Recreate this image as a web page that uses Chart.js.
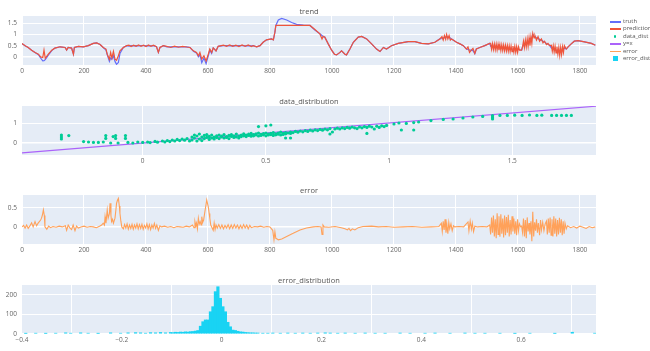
<!DOCTYPE html>
<html>
<head>
<meta charset="utf-8">
<script src="https://cdn.jsdelivr.net/npm/chart.js@4.4.0/dist/chart.umd.min.js"></script>
<style>
  body { margin: 0; background: #fff; width: 650px; height: 351px; overflow: hidden; position: relative; font-family: "Open Sans", sans-serif; }
  canvas { position: absolute; left: 0; }
  #legend { position: absolute; left: 609px; top: 18px; font-size: 6px; color: #555; }
  .item { position: relative; height: 7.4px; line-height: 7.4px; padding-left: 14px; white-space: nowrap; }
  .item i { position: absolute; left: 1px; top: 3px; width: 11px; height: 1.5px; }
  .item i.dot { left: 5px; top: 2.6px; width: 2.4px; height: 2.4px; border-radius: 50%; }
  .item i.box { left: 4px; top: 1.5px; width: 5px; height: 5px; }
</style>
</head>
<body>
<canvas id="trendChart" width="650" height="76" style="top:1px"></canvas>
<canvas id="distChart" width="650" height="76" style="top:91px"></canvas>
<canvas id="errorChart" width="650" height="76" style="top:180px"></canvas>
<canvas id="histChart" width="650" height="76" style="top:270px"></canvas>
<div id="legend"></div>
<script>
// Serie temporal: truth / prediction
const trendX = [
  0, 10, 20, 31, 42, 53, 60, 67, 71, 75, 85, 96, 106, 123, 139, 144, 149, 160, 166, 169,
  182, 198, 214, 230, 241, 252, 262, 271, 275, 282, 286, 290, 295, 300, 305, 311, 316, 327, 338,
  345, 352, 360, 368, 376, 384, 392, 400, 408, 416, 424, 434, 440, 445, 456, 467, 480, 492, 505, 518,
  531, 542, 553, 563, 569, 574, 580, 587, 594, 601, 606, 612, 617, 626, 633,
  650, 660, 670, 680, 690, 700, 710, 720, 730, 740, 746, 757, 768, 778, 789, 805, 811, 816, 819, 827,
  838, 854, 870, 886, 908, 929, 945, 961, 968, 972, 977,
  988, 999, 1008, 1015, 1026, 1031, 1042, 1047, 1058, 1069, 1085, 1096, 1112, 1128, 1144, 1155, 1166, 1176, 1192, 1214,
  1246, 1268, 1289, 1311, 1332, 1348,
  1355, 1359, 1363, 1367, 1370, 1374, 1378, 1382, 1386, 1402, 1413, 1424, 1434, 1439, 1444, 1450, 1455, 1461, 1466, 1477,
  1493, 1509,
  1512, 1515, 1518, 1521, 1524, 1527, 1530, 1533, 1536, 1539, 1542, 1545, 1548, 1551, 1554, 1557, 1560, 1563, 1566, 1569,
  1572, 1575, 1578, 1581, 1584, 1587, 1590, 1593, 1596, 1599, 1602, 1605,
  1612, 1615, 1618, 1621, 1624, 1627, 1630, 1633, 1636, 1639, 1642, 1645, 1648,
  1652, 1655, 1660, 1665, 1670, 1676, 1681, 1686, 1692, 1697, 1702,
  1708, 1711, 1714, 1717, 1720, 1723, 1726, 1729, 1732, 1735, 1738, 1741, 1744, 1747, 1750,
  1756, 1762, 1772, 1782, 1794, 1815, 1837, 1850
];
const truthY = [
  0.58, 0.5, 0.42, 0.3, 0.2, 0.1, -0.05, -0.18, -0.17, -0.12, 0.08, 0.28, 0.39, 0.45, 0.42, 0.3, 0.42, 0.39, 0.12, 0.42,
  0.47, 0.45, 0.5, 0.6, 0.62, 0.55, 0.42, 0.3, 0.1, -0.2, -0.05, -0.1, 0.05, -0.2, -0.33, -0.25, 0.15, 0.42, 0.5,
  0.48, 0.5, 0.49, 0.5, 0.49, 0.5, 0.5, 0.49, 0.5, 0.49, 0.5, 0.45, 0.2, 0.42, 0.5, 0.45, 0.45, 0.46, 0.45, 0.44,
  0.45, 0.42, 0.25, 0.18, 0, 0.1, -0.26, -0.05, -0.3, 0.05, 0.3, 0.15, 0.4, 0.27, 0.47,
  0.5, 0.5, 0.49, 0.5, 0.49, 0.5, 0.5, 0.49, 0.5, 0.49, 0.5, 0.45, 0.5, 0.65, 0.76, 0.8, 0.76, 1.1, 1.4, 1.64,
  1.71, 1.64, 1.53, 1.45, 1.41, 1.4, 1.2, 1.03, 0.95, 0.9, 0.88,
  0.58, 0.3, 0.12, 0.09, 0.2, 0.27, 0.12, 0.09, 0.35, 0.65, 0.88, 0.91, 0.8, 0.58, 0.35, 0.24, 0.42, 0.35, 0.5, 0.6,
  0.68, 0.68, 0.6, 0.58, 0.65, 0.8,
  0.82, 0.84, 0.86, 0.88, 0.9, 0.88, 0.86, 0.84, 0.8, 0.65, 0.58, 0.5, 0.35, 0.33, 0.3, 0.3, 0.28, 0.15, 0.35, 0.42,
  0.5, 0.6,
  0.48, 0.47, 0.47, 0.46, 0.46, 0.45, 0.45, 0.44, 0.44, 0.43, 0.42, 0.41, 0.41, 0.4, 0.4, 0.39, 0.38, 0.38, 0.37, 0.37,
  0.36, 0.36, 0.35, 0.35, 0.35, 0.34, 0.34, 0.34, 0.33, 0.33, 0.33, 0.32,
  0.3, 0.45, 0.55, 0.57, 0.6, 0.62, 0.64, 0.66, 0.7, 0.72, 0.78, 0.85, 1.0,
  0.92, 0.9, 0.85, 0.82, 0.78, 0.74, 0.7, 0.66, 0.6, 0.56, 0.52,
  0.4, 0.38, 0.36, 0.34, 0.32, 0.3, 0.28, 0.26, 0.25, 0.24, 0.25, 0.27, 0.3, 0.34, 0.4,
  0.35, 0.45, 0.58, 0.7, 0.72, 0.67, 0.6, 0.52
];
const predY = [
  0.6, 0.5, 0.42, 0.3, 0.2, 0.12, 0, -0.03, 0.3, -0.06, 0.12, 0.3, 0.39, 0.45, 0.42, 0.3, 0.42, 0.39, 0.12, 0.42,
  0.47, 0.45, 0.5, 0.6, 0.62, 0.55, 0.42, 0.35, 0.12, -0.1, 0.2, -0.05, 0.25, -0.1, -0.15, 0.05, 0.27, 0.42, 0.5,
  0.52, 0.46, 0.52, 0.47, 0.53, 0.47, 0.52, 0.46, 0.53, 0.47, 0.52, 0.45, 0.2, 0.42, 0.5, 0.47, 0.42, 0.48, 0.43, 0.47,
  0.44, 0.42, 0.27, 0.2, 0.05, 0.2, -0.1, 0.05, -0.18, 0.12, 0.35, 0.2, 0.4, 0.27, 0.47,
  0.52, 0.47, 0.53, 0.47, 0.52, 0.46, 0.53, 0.47, 0.53, 0.46, 0.5, 0.45, 0.5, 0.65, 0.76, 0.8, 0.76, 1.1, 1.4, 1.4,
  1.4, 1.4, 1.4, 1.4, 1.4, 1.4, 1.22, 1.03, 0.8, 0.92, 0.88,
  0.58, 0.3, 0.12, 0.09, 0.2, 0.27, 0.12, 0.09, 0.35, 0.65, 0.88, 0.91, 0.8, 0.58, 0.35, 0.24, 0.42, 0.35, 0.5, 0.6,
  0.68, 0.68, 0.6, 0.58, 0.65, 0.8,
  0.9, 0.75, 0.95, 0.78, 1.0, 0.8, 0.95, 0.75, 0.8, 0.65, 0.58, 0.5, 0.35, 0.45, 0.2, 0.3, 0.38, 0.15, 0.35, 0.42,
  0.5, 0.6,
  0.6, 0.34, 0.59, 0.33, 0.58, 0.32, 0.57, 0.31, 0.56, 0.3, 0.55, 0.29, 0.54, 0.28, 0.53, 0.27, 0.52, 0.26, 0.51, 0.25,
  0.5, 0.24, 0.49, 0.23, 0.48, 0.22, 0.47, 0.21, 0.46, 0.2, 0.45, 0.3,
  0.3, 0.45, 0.7, 0.42, 0.75, 0.45, 0.8, 0.47, 0.85, 0.5, 0.9, 0.6, 1.05,
  0.85, 0.95, 0.75, 0.9, 0.7, 0.8, 0.62, 0.7, 0.55, 0.6, 0.5,
  0.52, 0.25, 0.5, 0.22, 0.48, 0.18, 0.45, 0.12, 0.42, 0.06, 0.42, 0.1, 0.45, 0.2, 0.5,
  0.35, 0.45, 0.58, 0.7, 0.72, 0.67, 0.6, 0.52
];

// Dispersión truth vs prediction
const distX = [
  -0.33, -0.33, -0.33, -0.3, -0.24, -0.22, -0.2, -0.18, -0.16, -0.15,
  -0.15, -0.13, -0.12, -0.11, -0.11, -0.1, -0.07, -0.07, -0.06, -0.04,
  -0.02, 0, 0.02, 0.03, 0.05, 0.06, 0.08, 0.09, 0.1, 0.11,
  0.12, 0.13, 0.14, 0.15, 0.16, 0.17, 0.18, 0.19, 0.2, 0.2,
  0.21, 0.21, 0.22, 0.22, 0.23, 0.23, 0.24, 0.24, 0.25, 0.25,
  0.26, 0.26, 0.27, 0.27, 0.28, 0.28, 0.29, 0.29, 0.3, 0.3,
  0.31, 0.31, 0.32, 0.32, 0.33, 0.33, 0.34, 0.34, 0.35, 0.35,
  0.36, 0.36, 0.37, 0.37, 0.38, 0.38, 0.39, 0.39, 0.4, 0.4,
  0.41, 0.41, 0.42, 0.42, 0.43, 0.43, 0.44, 0.44, 0.45, 0.45,
  0.46, 0.46, 0.47, 0.47, 0.48, 0.48, 0.49, 0.49, 0.5, 0.5,
  0.51, 0.51, 0.52, 0.52, 0.53, 0.53, 0.54, 0.54, 0.55, 0.55,
  0.56, 0.56, 0.57, 0.57, 0.58, 0.58, 0.59, 0.6, 0.6, 0.5,
  0.52, 0.47, 0.58, 0.6, 0.61, 0.62, 0.63, 0.64, 0.65, 0.66,
  0.67, 0.68, 0.69, 0.7, 0.71, 0.72, 0.73, 0.74, 0.75, 0.76,
  0.77, 0.78, 0.79, 0.8, 0.81, 0.82, 0.83, 0.84, 0.85, 0.86,
  0.87, 0.88, 0.89, 0.9, 0.91, 0.91, 0.92, 0.93, 0.94, 0.95,
  0.96, 0.97, 0.98, 0.99, 0.76, 1.02, 1.04, 1.05, 1.07, 1.1,
  1.1, 1.12, 1.17, 1.22, 1.26, 1.3, 1.34, 1.38, 1.42, 1.42,
  1.42, 1.42, 1.45, 1.48, 1.51, 1.54, 1.57, 1.6, 1.62, 1.66,
  1.68, 1.7, 1.72, 1.74
];
const distY = [
  0.4, 0.3, 0.2, 0.37, 0.07, 0.05, 0.03, 0.03, 0.05, 0.37,
  0.23, 0, 0.32, 0.37, 0.23, 0, 0.37, 0.23, 0.03, 0,
  0.05, 0.03, 0.05, 0.02, 0.08, 0.04, 0.1, 0.05, 0.12, 0.07,
  0.15, 0.1, 0.18, 0.12, 0.2, 0.14, 0.22, 0.1, 0.3, 0.15,
  0.4, 0.25, 0.1, 0.35, 0.2, 0.45, 0.3, 0.12, 0.38, 0.22,
  0.28, 0.42, 0.18, 0.33, 0.25, 0.4, 0.3, 0.2, 0.36, 0.27,
  0.22, 0.4, 0.3, 0.35, 0.25, 0.42, 0.32, 0.28, 0.38, 0.22,
  0.33, 0.42, 0.28, 0.36, 0.3, 0.45, 0.35, 0.25, 0.4, 0.32,
  0.36, 0.46, 0.4, 0.32, 0.44, 0.38, 0.34, 0.48, 0.42, 0.36,
  0.46, 0.4, 0.35, 0.5, 0.43, 0.38, 0.47, 0.41, 0.36, 0.5,
  0.44, 0.4, 0.48, 0.42, 0.38, 0.52, 0.46, 0.41, 0.5, 0.44,
  0.4, 0.54, 0.48, 0.43, 0.52, 0.46, 0.5, 0.55, 0.48, 0.86,
  0.9, 0.82, 0.25, 0.25, 0.52, 0.58, 0.54, 0.6, 0.56, 0.62,
  0.58, 0.64, 0.6, 0.66, 0.62, 0.68, 0.64, 0.7, 0.66, 0.72,
  0.55, 0.7, 0.74, 0.7, 0.76, 0.72, 0.78, 0.74, 0.8, 0.76,
  0.72, 0.8, 0.76, 0.82, 0.48, 0.78, 0.84, 0.8, 0.7, 0.84,
  0.78, 0.86, 0.82, 0.88, 0.45, 0.95, 1.0, 0.65, 0.98, 1.02,
  0.65, 1.05, 1.12, 1.18, 1.2, 1.25, 1.3, 1.33, 1.37, 1.3,
  1.25, 1.2, 1.38, 1.38, 1.39, 1.38, 1.4, 1.38, 1.39, 1.38,
  1.38, 1.38, 1.38, 1.38
];
const diagX = [-0.49, 1.84];

// Error en el tiempo
const errX = [
  0, 5, 10, 15, 20, 25, 31, 36, 42, 47,
  52, 56, 60, 63, 66, 69, 72, 74, 80, 86,
  92, 100, 110, 120, 130, 140, 144, 149, 155, 160,
  165, 171, 176, 182, 190, 200, 210, 220, 230, 240,
  250, 257, 262, 266, 268, 271, 275, 278, 282, 284,
  287, 289, 292, 295, 300, 303, 305, 308, 311, 314,
  316, 319, 322, 327, 331, 335, 339, 343, 347, 351,
  355, 359, 363, 367, 371, 375, 379, 383, 387, 391,
  395, 399, 403, 407, 411, 415, 419, 423, 427, 431,
  435, 440, 445, 450, 460, 470, 480, 490, 500, 510,
  520, 530, 540, 550, 555, 558, 561, 563, 566, 569,
  572, 575, 578, 580, 583, 586, 590, 593, 596, 599,
  601, 604, 606, 609, 612, 617, 620, 623, 626, 630,
  635, 640, 645, 650, 655, 660, 665, 670, 675, 680,
  685, 690, 695, 700, 705, 710, 715, 720, 725, 730,
  735, 740, 750, 760, 770, 780, 790, 800, 809, 813,
  816, 819, 823, 827, 838, 854, 875, 897, 918, 940,
  955, 965, 968, 971, 975, 990, 1010, 1030, 1042, 1050,
  1055, 1060, 1066, 1074, 1085, 1100, 1128, 1150, 1175, 1200,
  1230, 1260, 1290, 1320, 1345, 1353, 1356, 1359, 1362, 1365,
  1368, 1371, 1374, 1377, 1380, 1384, 1388, 1392, 1396, 1410,
  1425, 1439, 1442, 1446, 1450, 1453, 1457, 1461, 1470, 1485,
  1500, 1509, 1512, 1515, 1518, 1521, 1524, 1527, 1530, 1533,
  1536, 1539, 1542, 1545, 1548, 1551, 1554, 1557, 1560, 1563,
  1566, 1569, 1572, 1575, 1578, 1581, 1584, 1587, 1590, 1593,
  1596, 1599, 1602, 1605, 1609, 1612, 1615, 1618, 1621, 1624,
  1627, 1630, 1633, 1636, 1639, 1642, 1645, 1648, 1651, 1654,
  1657, 1660, 1663, 1666, 1670, 1673, 1676, 1680, 1684, 1688,
  1692, 1695, 1698, 1701, 1704, 1707, 1710, 1713, 1716, 1719,
  1722, 1725, 1728, 1731, 1734, 1737, 1740, 1743, 1746, 1749,
  1752, 1756, 1760, 1770, 1780, 1790, 1800, 1810, 1820, 1830,
  1840, 1850
];
const errY = [
  0, 0.04, -0.03, 0.05, -0.04, 0.02, 0.11, 0, 0.14, 0.03,
  0.1, 0.14, 0.18, 0.23, 0.32, 0.45, 0.3, 0, -0.06, 0.02,
  -0.02, 0.01, -0.01, 0.02, 0, 0.03, -0.09, 0.05, -0.03, -0.07,
  0.05, -0.1, 0.02, -0.03, 0, 0.02, -0.01, 0.01, 0, -0.02,
  0.02, 0.05, 0.1, 0.05, 0.27, 0.1, 0.45, 0.23, 0.35, 0.62,
  0.3, 0.14, 0.2, 0.1, 0.23, 0.45, 0.62, 0.7, 0.75, 0.55,
  0.36, 0.15, 0, -0.05, 0.06, -0.03, 0.08, -0.06, 0.05, -0.04,
  0.07, -0.06, 0.05, -0.03, 0.08, -0.05, 0.06, -0.04, 0.07, -0.06,
  0.04, -0.03, 0.08, -0.05, 0.06, -0.07, 0.05, -0.03, 0.09, -0.04,
  0.05, -0.09, 0.03, 0, 0.02, -0.01, 0.01, -0.02, 0.01, 0,
  -0.01, 0.02, 0, 0.05, -0.02, 0.14, 0.03, 0.1, -0.05, 0.23,
  0.08, 0.14, 0.05, 0.27, 0.12, 0.18, 0.4, 0.55, 0.71, 0.6,
  0.53, 0.35, 0.23, 0.05, 0, -0.09, 0.1, -0.07, 0.05, -0.03,
  0.06, -0.04, 0.05, -0.05, 0.04, -0.03, 0.06, -0.05, 0.05, -0.04,
  0.06, -0.03, 0.05, -0.05, 0.04, -0.04, 0.06, -0.03, 0.05, -0.05,
  0.04, -0.02, 0.01, 0, 0.02, -0.01, 0.01, 0, -0.09, -0.34,
  -0.13, -0.3, -0.32, -0.34, -0.32, -0.25, -0.17, -0.08, -0.03, 0,
  0.01, 0, -0.2, 0.05, 0, -0.01, 0.01, -0.02, -0.05, -0.08,
  -0.04, -0.1, -0.05, -0.08, -0.02, 0.01, 0.02, 0, 0.01, -0.01,
  0, 0.01, -0.01, 0, 0.01, 0.1, -0.12, 0.15, -0.08, 0.2,
  -0.15, 0.05, -0.18, 0.12, -0.05, 0.08, -0.1, 0.03, 0, 0.01,
  0, 0.13, -0.1, 0.15, -0.06, 0.1, -0.12, 0.02, 0, 0.01,
  0, 0.05, -0.2, 0.25, -0.15, 0.3, -0.25, 0.2, -0.3, 0.36,
  -0.2, 0.28, -0.26, 0.33, -0.18, 0.22, -0.28, 0.3, -0.22, 0.26,
  -0.15, 0.32, -0.25, 0.18, -0.2, 0.28, -0.12, 0.22, -0.18, 0.15,
  -0.22, 0.2, -0.1, 0.08, 0, 0.02, -0.15, 0.22, -0.25, 0.18,
  -0.3, 0.25, -0.12, 0.1, -0.2, 0.15, -0.38, 0.4, -0.25, 0.12,
  -0.1, 0.2, -0.15, 0.1, -0.22, 0.18, -0.08, 0.12, -0.1, 0.08,
  0.15, -0.2, 0.22, -0.15, 0.25, -0.22, 0.2, -0.25, 0.28, -0.18,
  0.22, -0.25, 0.18, -0.2, 0.24, -0.15, 0.2, -0.22, 0.15, -0.18,
  0.1, -0.05, 0.03, -0.02, 0.01, -0.03, 0.02, -0.01, -0.04, 0.01,
  -0.02, 0
];

// Histograma del error (centros de bin de 0.005)
const histX = [
  -0.3925, -0.3725, -0.3525, -0.3325, -0.3125, -0.3025, -0.2825, -0.2675, -0.2475, -0.2225,
  -0.2025, -0.1875, -0.1725, -0.1625, -0.1525, -0.1425, -0.1325, -0.1225, -0.1125, -0.1025,
  -0.0975, -0.0925, -0.0875, -0.0825, -0.0775, -0.0725, -0.0675, -0.0625, -0.0575, -0.0525,
  -0.0475, -0.0425, -0.0375, -0.0325, -0.0275, -0.0225, -0.0175, -0.0125, -0.0075, -0.0025,
  0.0025, 0.0075, 0.0125, 0.0175, 0.0225, 0.0275, 0.0325, 0.0375, 0.0425, 0.0475,
  0.0525, 0.0575, 0.0625, 0.0675, 0.0725, 0.0825, 0.0925, 0.1025, 0.1175, 0.1325,
  0.1475, 0.1625, 0.1775, 0.1925, 0.2075, 0.2175, 0.2325, 0.2475, 0.2675, 0.2875,
  0.3075, 0.3275, 0.3575, 0.3775, 0.4075, 0.4275, 0.4575, 0.4875, 0.5075, 0.5275,
  0.5575, 0.5875, 0.6175, 0.6675, 0.7025, 0.7475
];
const histY = [
  3, 4, 3, 4, 6, 4, 6, 4, 3, 6,
  4, 6, 7, 6, 4, 7, 6, 8, 6, 8,
  7, 9, 8, 10, 9, 11, 10, 12, 13, 15,
  18, 40, 63, 72, 72, 114, 140, 217, 242, 183,
  140, 114, 60, 37, 20, 18, 14, 11, 10, 8,
  7, 6, 6, 5, 5, 4, 4, 5, 4, 5,
  4, 5, 4, 5, 6, 5, 4, 5, 4, 5,
  4, 4, 5, 4, 4, 5, 4, 5, 4, 4,
  4, 3, 4, 3, 9, 4
];

const legendNames = ['truth', 'prediction', 'data_dist', 'y=x', 'error', 'error_dist'];
const legendColors = ['#636efa', '#ef553b', '#00cc96', '#ab63fa', '#ffa15a', '#19d3f3'];

// Fondo del área de trazado estilo plotly
const plotBg = {
  id: 'plotBg',
  beforeDraw(chart) {
    const { ctx, chartArea: a } = chart;
    ctx.save();
    ctx.fillStyle = '#e5ecf6';
    ctx.fillRect(a.left, a.top, a.right - a.left, a.bottom - a.top);
    ctx.restore();
  }
};

function axis(min, max, ticks, isY, extra) {
  return Object.assign({
    type: 'linear',
    min: min,
    max: max,
    afterBuildTicks: s => { s.ticks = ticks.map(v => ({ value: v })); },
    afterFit: s => { if (isY) s.width = 22; else s.height = 12; },
    grid: {
      color: '#ffffff',
      lineWidth: c => (isY && c.tick && c.tick.value === 0) ? 1.6 : 1,
      drawTicks: false
    },
    border: { display: false },
    ticks: {
      color: '#666',
      font: { size: 6.5 },
      padding: isY ? 5 : 2,
      callback: v => String(v).replace('-', '\u2212')
    }
  }, extra || {});
}

function panel(id, type, datasets, title, xScale, yScale) {
  return new Chart(document.getElementById(id), {
    type: type,
    data: { datasets: datasets },
    options: {
      responsive: false,
      animation: false,
      layout: { padding: { left: 0, right: 54, top: 0, bottom: 0 } },
      plugins: {
        legend: { display: false },
        tooltip: { enabled: false },
        title: {
          display: true, text: title, fullSize: false, color: '#555',
          font: { size: 7.5, weight: 'normal' }, padding: { top: 6, bottom: 0 }
        }
      },
      scales: { x: xScale, y: yScale }
    },
    plugins: [plotBg]
  });
}

Chart.defaults.font.family = '"Open Sans", sans-serif';

const timeTicks = [0, 200, 400, 600, 800, 1000, 1200, 1400, 1600, 1800];

// prediction encima de truth (order menor = se dibuja encima)
panel('trendChart', 'scatter', [
  { data: trendX.map((x, i) => ({ x: x, y: truthY[i] })), showLine: true, borderColor: legendColors[0], borderWidth: 1.2, pointRadius: 0, order: 2 },
  { data: trendX.map((x, i) => ({ x: x, y: predY[i] })), showLine: true, borderColor: legendColors[1], borderWidth: 1.2, pointRadius: 0, order: 1 }
], 'trend', axis(0, 1852, timeTicks, false), axis(-0.36, 1.82, [0, 0.5, 1, 1.5], true));

panel('distChart', 'scatter', [
  { data: distX.map((x, i) => ({ x: x, y: distY[i] })), backgroundColor: legendColors[2], borderWidth: 0, pointRadius: 1.6, order: 1 },
  { data: diagX.map(x => ({ x: x, y: x })), showLine: true, borderColor: legendColors[3], borderWidth: 1.2, pointRadius: 0, order: 2 }
], 'data_distribution', axis(-0.49, 1.84, [0, 0.5, 1, 1.5], false), axis(-0.6, 1.85, [0, 1], true));

panel('errorChart', 'scatter', [
  { data: errX.map((x, i) => ({ x: x, y: errY[i] })), showLine: true, borderColor: legendColors[4], borderWidth: 1.1, pointRadius: 0 }
], 'error', axis(0, 1852, timeTicks, false), axis(-0.45, 0.84, [0, 0.5], true));

panel('histChart', 'bar', [
  { data: histX.map((x, i) => ({ x: x, y: histY[i] })), backgroundColor: legendColors[5], barPercentage: 1, categoryPercentage: 1 }
], 'error_distribution',
  axis(-0.4, 0.75, [-0.4, -0.2, 0, 0.2, 0.4, 0.6], false, { offset: false }),
  axis(0, 251, [0, 100, 200], true));

// Leyenda
const legend = document.getElementById('legend');
legendNames.forEach((name, i) => {
  const row = document.createElement('div');
  row.className = 'item';
  const mark = document.createElement('i');
  if (name === 'data_dist') mark.className = 'dot';
  if (name === 'error_dist') mark.className = 'box';
  mark.style.background = legendColors[i];
  row.appendChild(mark);
  row.appendChild(document.createTextNode(name));
  legend.appendChild(row);
});
</script>
</body>
</html>
